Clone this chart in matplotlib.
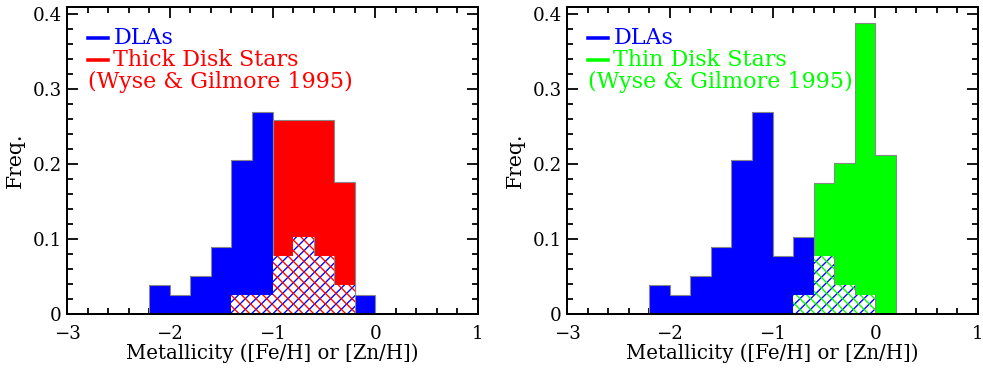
import matplotlib
matplotlib.use("Agg")
import matplotlib.pyplot as plt
from matplotlib.ticker import MultipleLocator, FuncFormatter
import numpy as np

plt.rcParams["font.family"] = "DejaVu Serif"
plt.rcParams["font.size"] = 8.2
plt.rcParams["hatch.linewidth"] = 0.6

# metallicity bins, width 0.2 dex, left edges
bin_left = [-2.2, -2.0, -1.8, -1.6, -1.4, -1.2, -1.0, -0.8, -0.6, -0.4, -0.2, 0.0]
dla = [0.0385, 0.0256, 0.0513, 0.0897, 0.2051, 0.2692, 0.0769, 0.1026, 0.0769, 0.0385, 0.0256, 0.0]
thick = [0.0, 0.0, 0.0, 0.0, 0.0256, 0.0256, 0.2590, 0.2590, 0.2590, 0.1760, 0.0, 0.0]
thin = [0.0, 0.0, 0.0, 0.0, 0.0, 0.0, 0.0, 0.0256, 0.1750, 0.2010, 0.3880, 0.2130]

panels = [
    (thick, "red", "Thick Disk Stars", 67),
    (thin, "#00ff00", "Thin Disk Stars", 567),
]

W, H = 983, 369
fig = plt.figure(figsize=(W / 160, H / 160), dpi=160)

for stars, col, name, x0 in panels:
    ax = fig.add_axes([x0 / W, 55 / H, 411 / W, 307 / H])
    x = np.array(bin_left)
    d = np.array(dla)
    s = np.array(stars)
    ov = np.minimum(d, s)
    edges = np.append(x, x[-1] + 0.2)

    ax.bar(x, d, width=0.2, align="edge", color="blue", linewidth=0, zorder=2)
    ax.bar(x, s, width=0.2, align="edge", color=col, linewidth=0, zorder=2)
    ax.stairs(d, edges, color="#888888", linewidth=0.5, zorder=2.5)
    ax.stairs(s, edges, color="#888888", linewidth=0.5, zorder=2.5)
    # overlap: cross hatch of both colours
    ax.bar(x, ov, width=0.2, align="edge", facecolor="white", edgecolor="blue",
           hatch="/////", linewidth=0, zorder=3)
    ax.bar(x, ov, width=0.2, align="edge", facecolor="none", edgecolor=col,
           hatch="\\\\\\\\\\", linewidth=0, zorder=4)

    ax.set_xlim(-3, 1)
    ax.set_ylim(0, 0.41)
    ax.xaxis.set_major_locator(MultipleLocator(1))
    ax.xaxis.set_minor_locator(MultipleLocator(0.2))
    ax.yaxis.set_major_locator(MultipleLocator(0.1))
    ax.yaxis.set_minor_locator(MultipleLocator(0.02))
    ax.yaxis.set_major_formatter(FuncFormatter(lambda v, p: "0" if abs(v) < 1e-9 else f"{v:.1f}"))
    ax.tick_params(which="both", direction="in", top=True, right=True, width=0.8, colors="black")
    ax.tick_params(which="major", length=5)
    ax.tick_params(which="minor", length=2.7)
    ax.tick_params(axis="x", pad=5.1)
    ax.tick_params(axis="y", pad=2.4)
    for sp in ax.spines.values():
        sp.set_linewidth(0.9)
        sp.set_zorder(6)

    ax.set_xlabel("Metallicity ([Fe/H] or [Zn/H])", fontsize=8.9, labelpad=0.2)
    ax.set_ylabel("Freq.", fontsize=9.2, labelpad=3.5)

    # legend drawn by hand
    ax.plot([0.051, 0.1], [0.899, 0.899], transform=ax.transAxes, color="blue", lw=1.6, zorder=7)
    ax.plot([0.051, 0.1], [0.827, 0.827], transform=ax.transAxes, color=col, lw=1.6, zorder=7)
    ax.text(0.113, 0.899, "DLAs", transform=ax.transAxes, color="blue", fontsize=10, va="center", ha="left")
    ax.text(0.113, 0.827, name, transform=ax.transAxes, color=col, fontsize=10, va="center", ha="left")
    ax.text(0.051, 0.756, "(Wyse & Gilmore 1995)", transform=ax.transAxes, color=col, fontsize=10,
            va="center", ha="left")

fig.savefig("out.png", dpi=160)
